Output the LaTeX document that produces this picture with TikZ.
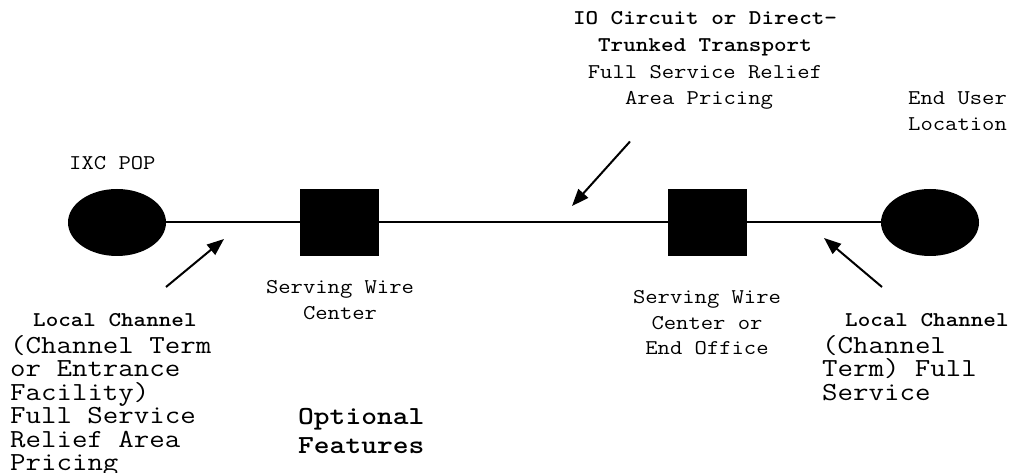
\documentclass[tikz,border=0pt]{standalone}
\usetikzlibrary{arrows.meta,shapes.geometric}
\newcommand{\stretchS}[1]{\scalebox{1.14}[1]{#1}}
\newcommand{\stretchB}[1]{\scalebox{1.155}[1]{#1}}
\begin{document}
\begin{tikzpicture}[x=1pt,y=-1pt,
  sm/.style={font=\ttfamily\fontsize{21}{26}\selectfont, inner sep=0pt},
  smb/.style={font=\ttfamily\bfseries\fontsize{21}{26}\selectfont, inner sep=0pt},
  big/.style={font=\ttfamily\fontsize{26}{24}\selectfont, inner sep=0pt},
  bigb/.style={font=\ttfamily\bfseries\fontsize{26}{24}\selectfont, inner sep=0pt},
  site/.style={ellipse, fill=black, minimum width=98pt, minimum height=67pt, inner sep=0pt},
  office/.style={rectangle, fill=black, minimum width=79pt, minimum height=67pt, inner sep=0pt},
  wire/.style={line width=2pt},
  pointer/.style={line width=2pt, -{Triangle[length=17pt,width=13pt]}}
]
\useasboundingbox (0,0) rectangle (1026,473);
% sites and offices
\node[site] (pop) at (117,222.5) {};
\node[office] (swc) at (339.5,222.5) {};
\node[office] (eo) at (707.5,222.5) {};
\node[site] (eu) at (930,222.5) {};
\draw[wire] (pop) -- (swc) -- (eo) -- (eu);
% arrows
\coordinate (lt) at (166,287);
\coordinate (lh) at (224,239);
\coordinate (mt) at (630,141.5);
\coordinate (mh) at (572,206);
\coordinate (rt) at (882,287);
\coordinate (rh) at (824,238);
\draw[pointer] (lt) -- (lh);
\draw[pointer] (mt) -- (mh);
\draw[pointer] (rt) -- (rh);
% top text
\node[smb, anchor=base] (io1) at (705,25) {\stretchS{IO Circuit or Direct-}};
\node[smb, anchor=base] (io2) at (705,51.7) {\stretchS{Trunked Transport}};
\node[sm, anchor=base] (io3) at (705,78.3) {\stretchS{Full Service Relief}};
\node[sm, anchor=base] (io4) at (699,105) {\stretchS{Area Pricing}};
% end user
\node[sm, anchor=base west] (eu1) at (908,105) {\stretchS{End User}};
\node[sm, anchor=base west] (eu2) at (908,131) {\stretchS{Location}};
% IXC POP
\node[sm, anchor=base west] (popl) at (69,170) {\stretchS{IXC POP}};
% serving wire center
\node[sm, anchor=base] (swc1) at (340,294) {\stretchS{Serving Wire}};
\node[sm, anchor=base] (swc2) at (340,319.5) {\stretchS{Center}};
% right serving wire center
\node[sm, anchor=base] (eo1) at (707,304) {\stretchS{Serving Wire}};
\node[sm, anchor=base] (eo2) at (707,329) {\stretchS{Center or}};
\node[sm, anchor=base] (eo3) at (707,354) {\stretchS{End Office}};
% left local channel
\node[smb, anchor=base west] (lc0) at (33,326.7) {\stretchS{Local Channel}};
\node[big, anchor=base west] (lc1) at (10,353.3) {\stretchB{(Channel Term}};
\node[big, anchor=base west] (lc2) at (10,376.8) {\stretchB{or Entrance}};
\node[big, anchor=base west] (lc3) at (10,400.3) {\stretchB{Facility)}};
\node[big, anchor=base west] (lc4) at (10,423.8) {\stretchB{Full Service}};
\node[big, anchor=base west] (lc5) at (10,447.3) {\stretchB{Relief Area}};
\node[big, anchor=base west] (lc6) at (10,470.8) {\stretchB{Pricing}};
% right local channel
\node[smb, anchor=base west] (rc0) at (845,326.7) {\stretchS{Local Channel}};
\node[big, anchor=base west] (rc1) at (822,353.3) {\stretchB{(Channel}};
\node[big, anchor=base west] (rc2) at (822,376.7) {\stretchB{Term) Full}};
\node[big, anchor=base west] (rc3) at (822,400) {\stretchB{Service}};
% optional features
\node[bigb, anchor=base west] (of1) at (298,424) {\stretchB{Optional}};
\node[bigb, anchor=base west] (of2) at (298,453) {\stretchB{Features}};
\end{tikzpicture}
\end{document}
